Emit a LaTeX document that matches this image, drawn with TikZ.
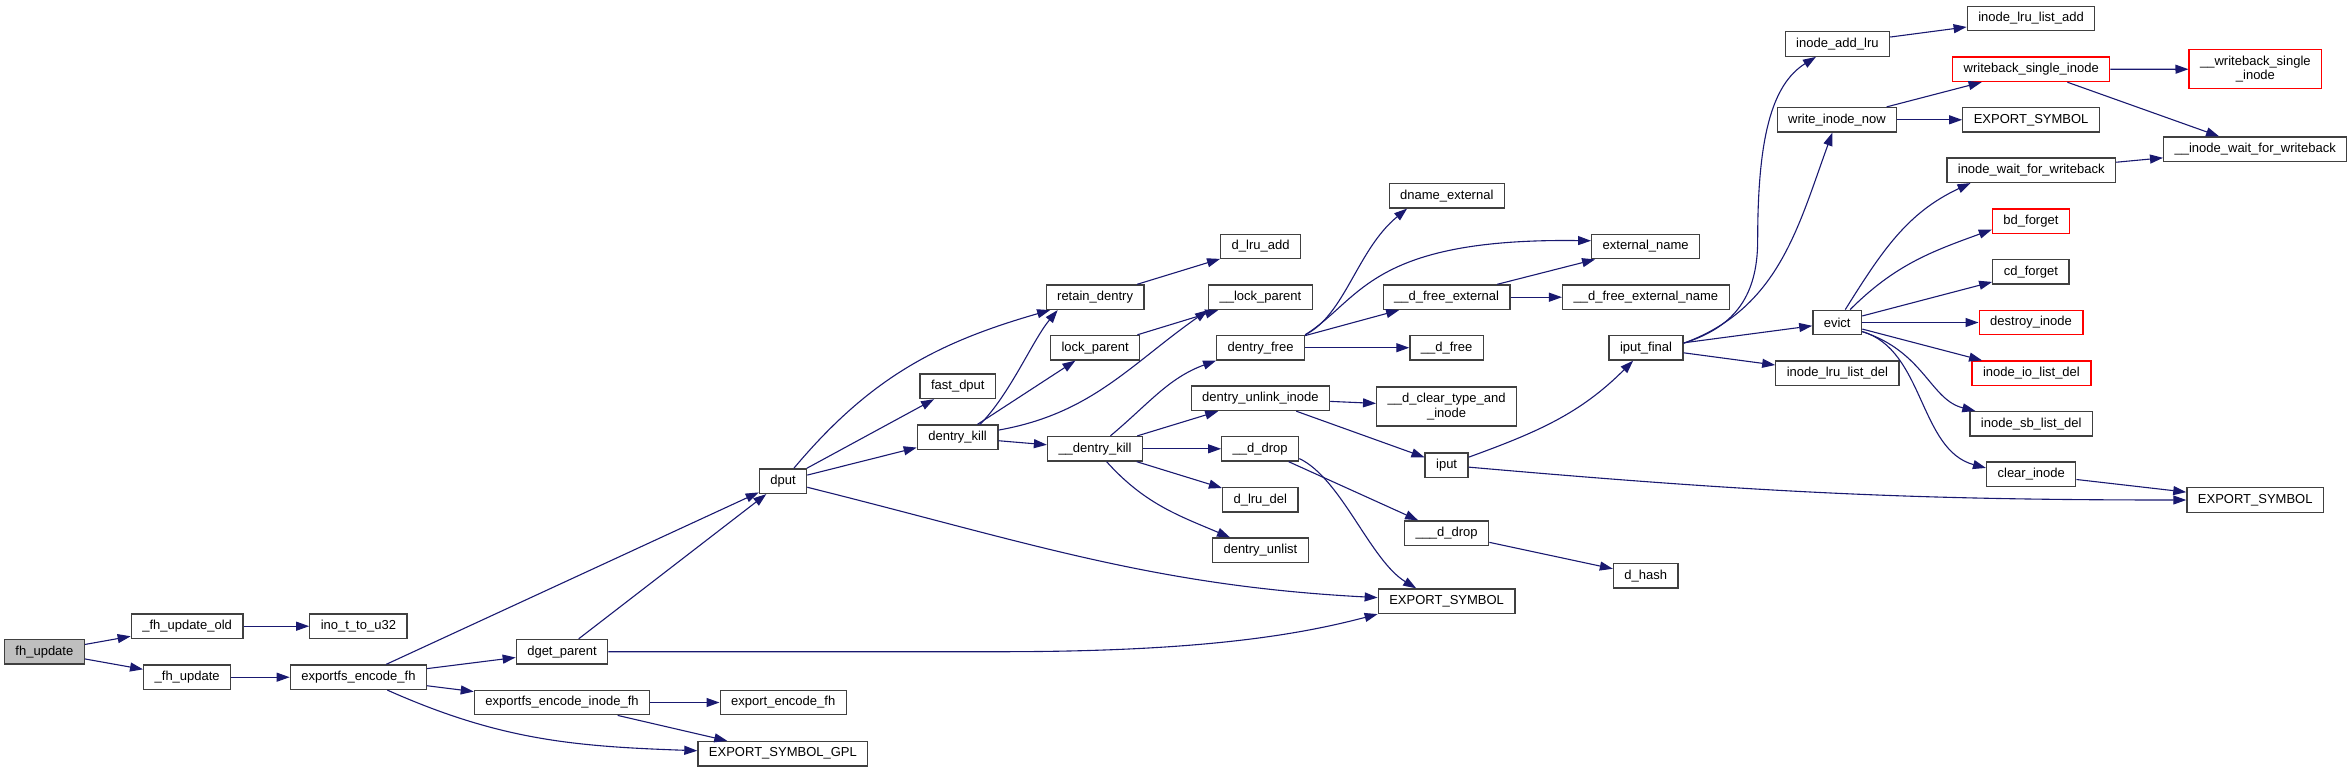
\documentclass[tikz,border=0pt]{standalone}
\usepackage{fontspec}
\setmainfont{Liberation Sans}
\usepackage{tikz}
\usetikzlibrary{arrows.meta}
\definecolor{GraphEdge}{RGB}{25,25,112}
\definecolor{GraphBorder}{RGB}{64,64,64}
\definecolor{GraphRoot}{RGB}{191,191,191}
\definecolor{GraphTrunc}{RGB}{255,0,0}

\begin{document}
\begin{tikzpicture}[x=1pt, y=1pt,
    fn/.style={draw=GraphBorder, line width=1.3pt, fill=white, rectangle, inner xsep=11pt, inner ysep=0pt,
      minimum height=24.5pt, font=\fontsize{13}{14.5}\selectfont, align=center},
    rootfn/.style={fn, fill=GraphRoot},
    cutfn/.style={fn, draw=GraphTrunc},
    twoline/.style={minimum height=39pt},
    edge/.style={draw=GraphEdge, line width=1.1pt, -{Triangle[length=13pt, width=9pt]}}]
    \useasboundingbox (0,0) rectangle (2352,-772);

    % callers side
    \node[rootfn] (fh) at (44.4,-651.7) {fh\_update};
    \node[fn] (fhold) at (187.1,-626.2) {\_fh\_update\_old};
    \node[fn] (inou32) at (358.4,-626.2) {ino\_t\_to\_u32};
    \node[fn] (fhupd) at (187.2,-677.2) {\_fh\_update};
    \node[fn] (encfh) at (358.4,-677.2) {exportfs\_encode\_fh};
    \node[fn] (dgetp) at (562,-651.7) {dget\_parent};
    \node[fn] (encinode) at (562,-702.5) {exportfs\_encode\_inode\_fh};
    \node[fn] (expfh) at (783.2,-702.5) {export\_encode\_fh};
    \node[fn] (symgpl) at (782.9,-753.7) {EXPORT\_SYMBOL\_GPL};

    % dentry part
    \node[fn] (dput) at (783,-481.2) {dput};
    \node[fn] (fastdput) at (957.8,-386.3) {fast\_dput};
    \node[fn] (dkill) at (957.6,-437.3) {dentry\_kill};
    \node[fn] (retain) at (1095.1,-297.2) {retain\_dentry};
    \node[fn] (lockp) at (1095.2,-347.7) {lock\_parent};
    \node[fn] (udkill) at (1095,-448.8) {\_\_dentry\_kill};
    \node[fn] (lruadd) at (1260.6,-246.5) {d\_lru\_add};
    \node[fn] (ulockp) at (1260.4,-297.2) {\_\_lock\_parent};
    \node[fn] (dfree) at (1260.6,-347.7) {dentry\_free};
    \node[fn] (unlink) at (1260.4,-398.3) {dentry\_unlink\_inode};
    \node[fn] (uddrop) at (1260.2,-448.8) {\_\_d\_drop};
    \node[fn] (lrudel) at (1260.3,-499.8) {d\_lru\_del};
    \node[fn] (unlist) at (1260.4,-550.3) {dentry\_unlist};
    \node[fn] (dname) at (1446.8,-195.7) {dname\_external};
    \node[fn] (ufreeext) at (1446.6,-297.2) {\_\_d\_free\_external};
    \node[fn] (ufree) at (1446.6,-347.7) {\_\_d\_free};
    \node[fn, twoline] (uclear) at (1446.6,-406.5) {\_\_d\_clear\_type\_and\\\_inode};
    \node[fn] (iput) at (1446.6,-465.2) {iput};
    \node[fn] (uuddrop) at (1446.6,-533.2) {\_\_\_d\_drop};
    \node[fn] (symmid) at (1446.6,-601.2) {EXPORT\_SYMBOL};
    \node[fn] (extname) at (1645.7,-246.5) {external\_name};
    \node[fn] (ufreeextname) at (1645.9,-297.2) {\_\_d\_free\_external\_name};
    \node[fn] (iputfinal) at (1646,-347.8) {iput\_final};
    \node[fn] (dhash) at (1645.8,-575.8) {d\_hash};

    % inode part
    \node[fn] (addlru) at (1837.4,-44) {inode\_add\_lru};
    \node[fn] (writenow) at (1837,-119.8) {write\_inode\_now};
    \node[fn] (evict) at (1837.2,-322.5) {evict};
    \node[fn] (lrulistdel) at (1837.4,-373.3) {inode\_lru\_list\_del};
    \node[fn] (lrulistadd) at (2031,-18.5) {inode\_lru\_list\_add};
    \node[cutfn] (wbsingle) at (2031.2,-69.3) {writeback\_single\_inode};
    \node[fn] (symtop) at (2031.1,-119.8) {EXPORT\_SYMBOL};
    \node[fn] (waitwb) at (2031.2,-170.2) {inode\_wait\_for\_writeback};
    \node[cutfn] (bdforget) at (2030.9,-221.3) {bd\_forget};
    \node[fn] (cdforget) at (2030.9,-271.8) {cd\_forget};
    \node[cutfn] (destroy) at (2031,-322.5) {destroy\_inode};
    \node[cutfn] (iolistdel) at (2031.4,-373.3) {inode\_io\_list\_del};
    \node[fn] (sblistdel) at (2031.2,-423.8) {inode\_sb\_list\_del};
    \node[fn] (clearinode) at (2031.2,-474.3) {clear\_inode};
    \node[cutfn, twoline] (uwbsingle) at (2255.4,-69.2) {\_\_writeback\_single\\\_inode};
    \node[fn] (uwaitwb) at (2255.2,-149.2) {\_\_inode\_wait\_for\_writeback};
    \node[fn] (symright) at (2255.2,-500) {EXPORT\_SYMBOL};

    % calls
    \draw[edge] (fh) -- (fhold);
    \draw[edge] (fh) -- (fhupd);
    \draw[edge] (fhold) -- (inou32);
    \draw[edge] (fhupd) -- (encfh);
    \draw[edge] (encfh) -- (dput);
    \draw[edge] (encfh) -- (dgetp);
    \draw[edge] (encfh) -- (encinode);
    \draw[edge] (encfh) to[out=-24, in=178] (symgpl);
    \draw[edge] (dgetp) -- (dput);
    \draw[edge] (dgetp.east) -- ++(392,0) .. controls +(200,0) and +(-80,-21) .. (symmid.south west);
    \draw[edge] (encinode) -- (expfh);
    \draw[edge] (encinode) -- (symgpl);
    \draw[edge] (dput) to[out=50, in=196] (retain);
    \draw[edge] (dput) -- (fastdput);
    \draw[edge] (dput) -- (dkill);
    \draw[edge] (dput) to[out=-14, in=177] (symmid);
    \draw[edge] (dkill.30) .. controls +(30,30) and +(-25,-30) .. (retain.199);
    \draw[edge] (dkill) -- (lockp);
    \draw[edge] (dkill) to[out=10, in=215] (ulockp.south west);
    \draw[edge] (dkill) -- (udkill);
    \draw[edge] (retain) -- (lruadd);
    \draw[edge] (lockp) -- (ulockp);
    \draw[edge] (udkill) to[out=40, in=200] (dfree.south west);
    \draw[edge] (udkill) -- (unlink);
    \draw[edge] (udkill) -- (uddrop);
    \draw[edge] (udkill) -- (lrudel);
    \draw[edge] (udkill) to[out=-48, in=157] (unlist);
    \draw[edge] (dfree.north east) .. controls +(40,20) and +(-50,-41) .. (dname.198);
    \draw[edge] (dfree.north east) .. controls +(56,35) and +(-222,3) .. (extname.174);
    \draw[edge] (dfree) -- (ufreeext);
    \draw[edge] (dfree) -- (ufree);
    \draw[edge] (ufreeext) -- (extname);
    \draw[edge] (ufreeext) -- (ufreeextname);
    \draw[edge] (unlink) -- (uclear);
    \draw[edge] (unlink) -- (iput);
    \draw[edge] (uddrop) -- (uuddrop);
    \draw[edge] (uddrop.-14) .. controls +(42,-20) and +(-46,28) .. (symmid.157);
    \draw[edge] (uuddrop) -- (dhash);
    \draw[edge] (iput) to[out=20, in=225] (iputfinal);
    \draw[edge] (iput) to[out=-5, in=180] (symright);
    \draw[edge] (iputfinal.7) .. controls +(47,15) and +(0,-60) .. ++(74,103) .. controls +(0,100) and +(-45,-28) .. (addlru.211);
    \draw[edge] (iputfinal.7) to[out=20, in=250] (writenow);
    \draw[edge] (iputfinal) -- (evict);
    \draw[edge] (iputfinal) -- (lrulistdel);
    \draw[edge] (addlru) -- (lrulistadd);
    \draw[edge] (writenow) -- (wbsingle);
    \draw[edge] (writenow) -- (symtop);
    \draw[edge] (wbsingle) -- (uwbsingle);
    \draw[edge] (wbsingle) -- (uwaitwb);
    \draw[edge] (waitwb) -- (uwaitwb);
    \draw[edge] (evict) to[out=58, in=205] (waitwb.192);
    \draw[edge] (evict) to[out=45, in=200] (bdforget.192);
    \draw[edge] (evict) -- (cdforget);
    \draw[edge] (evict) -- (destroy);
    \draw[edge] (evict) -- (iolistdel);
    \draw[edge] (evict.-20) .. controls +(62,-20) and +(-45,11) .. (sblistdel.167);
    \draw[edge] (evict.-20) .. controls +(62,-18) and +(-67,18) .. (clearinode.172);
    \draw[edge] (clearinode) -- (symright);
\end{tikzpicture}
\end{document}
